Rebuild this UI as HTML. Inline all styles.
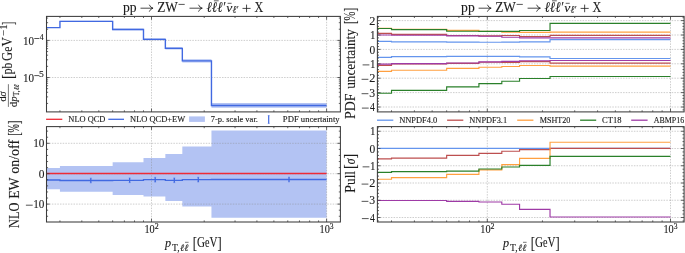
<!DOCTYPE html>
<html><head><meta charset="utf-8"><style>
html,body{margin:0;padding:0;background:#fff;}
body{width:685px;height:253px;overflow:hidden;}
svg{display:block;}
#w{will-change:transform;width:685px;height:253px;}
</style></head><body><div id="w">
<svg width="685" height="253" viewBox="0 0 685 253" font-family='"Liberation Serif", serif' fill="#1c1c1c">
<style>text{stroke:#1c1c1c;stroke-width:0.12px;}</style>
<rect width="685" height="253" fill="#fff"/>
<path d="M46.08 26.97 H59.94 V20.63 H112.65 V28.55 H143.49 V38.27 H165.36 V47.04 H182.33 V59.22 H211.46 V103.06 H326.60 V107.70 H211.46 V62.42 H182.33 V49.56 H165.36 V40.34 H143.49 V30.32 H112.65 V22.02 H59.94 V28.11 H46.08 Z" fill="#b3c3f3"/>
<line x1="151.50" y1="16.40" x2="151.50" y2="111.90" stroke="#8a8a8a" stroke-width="0.42" stroke-dasharray="1.5 1.2"/>
<line x1="326.60" y1="16.40" x2="326.60" y2="111.90" stroke="#8a8a8a" stroke-width="0.42" stroke-dasharray="1.5 1.2"/>
<line x1="46.50" y1="40.40" x2="340.40" y2="40.40" stroke="#8a8a8a" stroke-width="0.42" stroke-dasharray="1.5 1.2"/>
<line x1="46.50" y1="77.50" x2="340.40" y2="77.50" stroke="#8a8a8a" stroke-width="0.42" stroke-dasharray="1.5 1.2"/>
<path d="M46.08 27.60 H59.94 V21.40 H112.65 V29.50 H143.49 V39.40 H165.36 V48.40 H182.33 V60.90 H211.46 V105.50 H326.60" fill="none" stroke="#4169e1" stroke-width="1.4"/>
<line x1="59.94" y1="111.90" x2="59.94" y2="110.30" stroke="#3c3c3c" stroke-width="0.8"/>
<line x1="59.94" y1="16.40" x2="59.94" y2="18.00" stroke="#3c3c3c" stroke-width="0.8"/>
<line x1="81.82" y1="111.90" x2="81.82" y2="110.30" stroke="#3c3c3c" stroke-width="0.8"/>
<line x1="81.82" y1="16.40" x2="81.82" y2="18.00" stroke="#3c3c3c" stroke-width="0.8"/>
<line x1="98.79" y1="111.90" x2="98.79" y2="110.30" stroke="#3c3c3c" stroke-width="0.8"/>
<line x1="98.79" y1="16.40" x2="98.79" y2="18.00" stroke="#3c3c3c" stroke-width="0.8"/>
<line x1="112.65" y1="111.90" x2="112.65" y2="110.30" stroke="#3c3c3c" stroke-width="0.8"/>
<line x1="112.65" y1="16.40" x2="112.65" y2="18.00" stroke="#3c3c3c" stroke-width="0.8"/>
<line x1="124.38" y1="111.90" x2="124.38" y2="110.30" stroke="#3c3c3c" stroke-width="0.8"/>
<line x1="124.38" y1="16.40" x2="124.38" y2="18.00" stroke="#3c3c3c" stroke-width="0.8"/>
<line x1="134.53" y1="111.90" x2="134.53" y2="110.30" stroke="#3c3c3c" stroke-width="0.8"/>
<line x1="134.53" y1="16.40" x2="134.53" y2="18.00" stroke="#3c3c3c" stroke-width="0.8"/>
<line x1="143.49" y1="111.90" x2="143.49" y2="110.30" stroke="#3c3c3c" stroke-width="0.8"/>
<line x1="143.49" y1="16.40" x2="143.49" y2="18.00" stroke="#3c3c3c" stroke-width="0.8"/>
<line x1="151.50" y1="111.90" x2="151.50" y2="108.60" stroke="#3c3c3c" stroke-width="0.8"/>
<line x1="151.50" y1="16.40" x2="151.50" y2="19.70" stroke="#3c3c3c" stroke-width="0.8"/>
<line x1="204.21" y1="111.90" x2="204.21" y2="110.30" stroke="#3c3c3c" stroke-width="0.8"/>
<line x1="204.21" y1="16.40" x2="204.21" y2="18.00" stroke="#3c3c3c" stroke-width="0.8"/>
<line x1="235.04" y1="111.90" x2="235.04" y2="110.30" stroke="#3c3c3c" stroke-width="0.8"/>
<line x1="235.04" y1="16.40" x2="235.04" y2="18.00" stroke="#3c3c3c" stroke-width="0.8"/>
<line x1="256.92" y1="111.90" x2="256.92" y2="110.30" stroke="#3c3c3c" stroke-width="0.8"/>
<line x1="256.92" y1="16.40" x2="256.92" y2="18.00" stroke="#3c3c3c" stroke-width="0.8"/>
<line x1="273.89" y1="111.90" x2="273.89" y2="110.30" stroke="#3c3c3c" stroke-width="0.8"/>
<line x1="273.89" y1="16.40" x2="273.89" y2="18.00" stroke="#3c3c3c" stroke-width="0.8"/>
<line x1="287.75" y1="111.90" x2="287.75" y2="110.30" stroke="#3c3c3c" stroke-width="0.8"/>
<line x1="287.75" y1="16.40" x2="287.75" y2="18.00" stroke="#3c3c3c" stroke-width="0.8"/>
<line x1="299.48" y1="111.90" x2="299.48" y2="110.30" stroke="#3c3c3c" stroke-width="0.8"/>
<line x1="299.48" y1="16.40" x2="299.48" y2="18.00" stroke="#3c3c3c" stroke-width="0.8"/>
<line x1="309.63" y1="111.90" x2="309.63" y2="110.30" stroke="#3c3c3c" stroke-width="0.8"/>
<line x1="309.63" y1="16.40" x2="309.63" y2="18.00" stroke="#3c3c3c" stroke-width="0.8"/>
<line x1="318.59" y1="111.90" x2="318.59" y2="110.30" stroke="#3c3c3c" stroke-width="0.8"/>
<line x1="318.59" y1="16.40" x2="318.59" y2="18.00" stroke="#3c3c3c" stroke-width="0.8"/>
<line x1="326.60" y1="111.90" x2="326.60" y2="108.60" stroke="#3c3c3c" stroke-width="0.8"/>
<line x1="326.60" y1="16.40" x2="326.60" y2="19.70" stroke="#3c3c3c" stroke-width="0.8"/>
<line x1="46.50" y1="40.40" x2="49.60" y2="40.40" stroke="#3c3c3c" stroke-width="0.8"/>
<line x1="340.40" y1="40.40" x2="337.30" y2="40.40" stroke="#3c3c3c" stroke-width="0.8"/>
<line x1="46.50" y1="29.23" x2="48.10" y2="29.23" stroke="#3c3c3c" stroke-width="0.8"/>
<line x1="340.40" y1="29.23" x2="338.80" y2="29.23" stroke="#3c3c3c" stroke-width="0.8"/>
<line x1="46.50" y1="22.70" x2="48.10" y2="22.70" stroke="#3c3c3c" stroke-width="0.8"/>
<line x1="340.40" y1="22.70" x2="338.80" y2="22.70" stroke="#3c3c3c" stroke-width="0.8"/>
<line x1="46.50" y1="18.06" x2="48.10" y2="18.06" stroke="#3c3c3c" stroke-width="0.8"/>
<line x1="340.40" y1="18.06" x2="338.80" y2="18.06" stroke="#3c3c3c" stroke-width="0.8"/>
<line x1="46.50" y1="77.50" x2="49.60" y2="77.50" stroke="#3c3c3c" stroke-width="0.8"/>
<line x1="340.40" y1="77.50" x2="337.30" y2="77.50" stroke="#3c3c3c" stroke-width="0.8"/>
<line x1="46.50" y1="66.33" x2="48.10" y2="66.33" stroke="#3c3c3c" stroke-width="0.8"/>
<line x1="340.40" y1="66.33" x2="338.80" y2="66.33" stroke="#3c3c3c" stroke-width="0.8"/>
<line x1="46.50" y1="59.80" x2="48.10" y2="59.80" stroke="#3c3c3c" stroke-width="0.8"/>
<line x1="340.40" y1="59.80" x2="338.80" y2="59.80" stroke="#3c3c3c" stroke-width="0.8"/>
<line x1="46.50" y1="55.16" x2="48.10" y2="55.16" stroke="#3c3c3c" stroke-width="0.8"/>
<line x1="340.40" y1="55.16" x2="338.80" y2="55.16" stroke="#3c3c3c" stroke-width="0.8"/>
<line x1="46.50" y1="51.57" x2="48.10" y2="51.57" stroke="#3c3c3c" stroke-width="0.8"/>
<line x1="340.40" y1="51.57" x2="338.80" y2="51.57" stroke="#3c3c3c" stroke-width="0.8"/>
<line x1="46.50" y1="48.63" x2="48.10" y2="48.63" stroke="#3c3c3c" stroke-width="0.8"/>
<line x1="340.40" y1="48.63" x2="338.80" y2="48.63" stroke="#3c3c3c" stroke-width="0.8"/>
<line x1="46.50" y1="46.15" x2="48.10" y2="46.15" stroke="#3c3c3c" stroke-width="0.8"/>
<line x1="340.40" y1="46.15" x2="338.80" y2="46.15" stroke="#3c3c3c" stroke-width="0.8"/>
<line x1="46.50" y1="44.00" x2="48.10" y2="44.00" stroke="#3c3c3c" stroke-width="0.8"/>
<line x1="340.40" y1="44.00" x2="338.80" y2="44.00" stroke="#3c3c3c" stroke-width="0.8"/>
<line x1="46.50" y1="42.10" x2="48.10" y2="42.10" stroke="#3c3c3c" stroke-width="0.8"/>
<line x1="340.40" y1="42.10" x2="338.80" y2="42.10" stroke="#3c3c3c" stroke-width="0.8"/>
<line x1="46.50" y1="103.43" x2="48.10" y2="103.43" stroke="#3c3c3c" stroke-width="0.8"/>
<line x1="340.40" y1="103.43" x2="338.80" y2="103.43" stroke="#3c3c3c" stroke-width="0.8"/>
<line x1="46.50" y1="96.90" x2="48.10" y2="96.90" stroke="#3c3c3c" stroke-width="0.8"/>
<line x1="340.40" y1="96.90" x2="338.80" y2="96.90" stroke="#3c3c3c" stroke-width="0.8"/>
<line x1="46.50" y1="92.26" x2="48.10" y2="92.26" stroke="#3c3c3c" stroke-width="0.8"/>
<line x1="340.40" y1="92.26" x2="338.80" y2="92.26" stroke="#3c3c3c" stroke-width="0.8"/>
<line x1="46.50" y1="88.67" x2="48.10" y2="88.67" stroke="#3c3c3c" stroke-width="0.8"/>
<line x1="340.40" y1="88.67" x2="338.80" y2="88.67" stroke="#3c3c3c" stroke-width="0.8"/>
<line x1="46.50" y1="85.73" x2="48.10" y2="85.73" stroke="#3c3c3c" stroke-width="0.8"/>
<line x1="340.40" y1="85.73" x2="338.80" y2="85.73" stroke="#3c3c3c" stroke-width="0.8"/>
<line x1="46.50" y1="83.25" x2="48.10" y2="83.25" stroke="#3c3c3c" stroke-width="0.8"/>
<line x1="340.40" y1="83.25" x2="338.80" y2="83.25" stroke="#3c3c3c" stroke-width="0.8"/>
<line x1="46.50" y1="81.10" x2="48.10" y2="81.10" stroke="#3c3c3c" stroke-width="0.8"/>
<line x1="340.40" y1="81.10" x2="338.80" y2="81.10" stroke="#3c3c3c" stroke-width="0.8"/>
<line x1="46.50" y1="79.20" x2="48.10" y2="79.20" stroke="#3c3c3c" stroke-width="0.8"/>
<line x1="340.40" y1="79.20" x2="338.80" y2="79.20" stroke="#3c3c3c" stroke-width="0.8"/>
<rect x="46.50" y="16.40" width="293.90" height="95.50" fill="none" stroke="#3c3c3c" stroke-width="1.05"/>
<path d="M46.08 168.00 H59.94 V165.90 H112.65 V162.20 H143.49 V158.00 H165.36 V154.00 H182.33 V146.60 H211.46 V130.40 H326.60 V217.70 H211.46 V206.50 H182.33 V201.00 H165.36 V196.60 H143.49 V195.10 H112.65 V191.70 H59.94 V189.30 H46.08 Z" fill="#b3c3f3"/>
<line x1="151.50" y1="126.60" x2="151.50" y2="222.00" stroke="#8a8a8a" stroke-width="0.42" stroke-dasharray="1.5 1.2"/>
<line x1="326.60" y1="126.60" x2="326.60" y2="222.00" stroke="#8a8a8a" stroke-width="0.42" stroke-dasharray="1.5 1.2"/>
<line x1="46.50" y1="143.30" x2="340.40" y2="143.30" stroke="#8a8a8a" stroke-width="0.42" stroke-dasharray="1.5 1.2"/>
<line x1="46.50" y1="173.70" x2="340.40" y2="173.70" stroke="#8a8a8a" stroke-width="0.42" stroke-dasharray="1.5 1.2"/>
<line x1="46.50" y1="204.10" x2="340.40" y2="204.10" stroke="#8a8a8a" stroke-width="0.42" stroke-dasharray="1.5 1.2"/>
<line x1="46.08" y1="173.50" x2="326.60" y2="173.50" stroke="#ee2b36" stroke-width="1.3"/>
<path d="M46.08 180.00 H59.94 V180.50 H112.65 V180.30 H143.49 V179.70 H165.36 V180.30 H182.33 V179.60 H211.46 V179.50 H326.60" fill="none" stroke="#4169e1" stroke-width="1.3"/>
<line x1="90.78" y1="178.20" x2="90.78" y2="182.80" stroke="#4169e1" stroke-width="1.3"/>
<line x1="89.88" y1="178.20" x2="91.68" y2="178.20" stroke="#4169e1" stroke-width="0.6"/>
<line x1="89.88" y1="182.80" x2="91.68" y2="182.80" stroke="#4169e1" stroke-width="0.6"/>
<line x1="129.62" y1="178.00" x2="129.62" y2="182.60" stroke="#4169e1" stroke-width="1.3"/>
<line x1="128.72" y1="178.00" x2="130.52" y2="178.00" stroke="#4169e1" stroke-width="0.6"/>
<line x1="128.72" y1="182.60" x2="130.52" y2="182.60" stroke="#4169e1" stroke-width="0.6"/>
<line x1="155.21" y1="177.40" x2="155.21" y2="182.00" stroke="#4169e1" stroke-width="1.3"/>
<line x1="154.31" y1="177.40" x2="156.11" y2="177.40" stroke="#4169e1" stroke-width="0.6"/>
<line x1="154.31" y1="182.00" x2="156.11" y2="182.00" stroke="#4169e1" stroke-width="0.6"/>
<line x1="174.32" y1="178.00" x2="174.32" y2="182.60" stroke="#4169e1" stroke-width="1.3"/>
<line x1="173.42" y1="178.00" x2="175.22" y2="178.00" stroke="#4169e1" stroke-width="0.6"/>
<line x1="173.42" y1="182.60" x2="175.22" y2="182.60" stroke="#4169e1" stroke-width="0.6"/>
<line x1="198.28" y1="177.30" x2="198.28" y2="181.90" stroke="#4169e1" stroke-width="1.3"/>
<line x1="197.38" y1="177.30" x2="199.18" y2="177.30" stroke="#4169e1" stroke-width="0.6"/>
<line x1="197.38" y1="181.90" x2="199.18" y2="181.90" stroke="#4169e1" stroke-width="0.6"/>
<line x1="289.01" y1="177.20" x2="289.01" y2="181.80" stroke="#4169e1" stroke-width="1.3"/>
<line x1="288.11" y1="177.20" x2="289.91" y2="177.20" stroke="#4169e1" stroke-width="0.6"/>
<line x1="288.11" y1="181.80" x2="289.91" y2="181.80" stroke="#4169e1" stroke-width="0.6"/>
<line x1="59.94" y1="222.00" x2="59.94" y2="220.40" stroke="#3c3c3c" stroke-width="0.8"/>
<line x1="59.94" y1="126.60" x2="59.94" y2="128.20" stroke="#3c3c3c" stroke-width="0.8"/>
<line x1="81.82" y1="222.00" x2="81.82" y2="220.40" stroke="#3c3c3c" stroke-width="0.8"/>
<line x1="81.82" y1="126.60" x2="81.82" y2="128.20" stroke="#3c3c3c" stroke-width="0.8"/>
<line x1="98.79" y1="222.00" x2="98.79" y2="220.40" stroke="#3c3c3c" stroke-width="0.8"/>
<line x1="98.79" y1="126.60" x2="98.79" y2="128.20" stroke="#3c3c3c" stroke-width="0.8"/>
<line x1="112.65" y1="222.00" x2="112.65" y2="220.40" stroke="#3c3c3c" stroke-width="0.8"/>
<line x1="112.65" y1="126.60" x2="112.65" y2="128.20" stroke="#3c3c3c" stroke-width="0.8"/>
<line x1="124.38" y1="222.00" x2="124.38" y2="220.40" stroke="#3c3c3c" stroke-width="0.8"/>
<line x1="124.38" y1="126.60" x2="124.38" y2="128.20" stroke="#3c3c3c" stroke-width="0.8"/>
<line x1="134.53" y1="222.00" x2="134.53" y2="220.40" stroke="#3c3c3c" stroke-width="0.8"/>
<line x1="134.53" y1="126.60" x2="134.53" y2="128.20" stroke="#3c3c3c" stroke-width="0.8"/>
<line x1="143.49" y1="222.00" x2="143.49" y2="220.40" stroke="#3c3c3c" stroke-width="0.8"/>
<line x1="143.49" y1="126.60" x2="143.49" y2="128.20" stroke="#3c3c3c" stroke-width="0.8"/>
<line x1="151.50" y1="222.00" x2="151.50" y2="218.70" stroke="#3c3c3c" stroke-width="0.8"/>
<line x1="151.50" y1="126.60" x2="151.50" y2="129.90" stroke="#3c3c3c" stroke-width="0.8"/>
<line x1="204.21" y1="222.00" x2="204.21" y2="220.40" stroke="#3c3c3c" stroke-width="0.8"/>
<line x1="204.21" y1="126.60" x2="204.21" y2="128.20" stroke="#3c3c3c" stroke-width="0.8"/>
<line x1="235.04" y1="222.00" x2="235.04" y2="220.40" stroke="#3c3c3c" stroke-width="0.8"/>
<line x1="235.04" y1="126.60" x2="235.04" y2="128.20" stroke="#3c3c3c" stroke-width="0.8"/>
<line x1="256.92" y1="222.00" x2="256.92" y2="220.40" stroke="#3c3c3c" stroke-width="0.8"/>
<line x1="256.92" y1="126.60" x2="256.92" y2="128.20" stroke="#3c3c3c" stroke-width="0.8"/>
<line x1="273.89" y1="222.00" x2="273.89" y2="220.40" stroke="#3c3c3c" stroke-width="0.8"/>
<line x1="273.89" y1="126.60" x2="273.89" y2="128.20" stroke="#3c3c3c" stroke-width="0.8"/>
<line x1="287.75" y1="222.00" x2="287.75" y2="220.40" stroke="#3c3c3c" stroke-width="0.8"/>
<line x1="287.75" y1="126.60" x2="287.75" y2="128.20" stroke="#3c3c3c" stroke-width="0.8"/>
<line x1="299.48" y1="222.00" x2="299.48" y2="220.40" stroke="#3c3c3c" stroke-width="0.8"/>
<line x1="299.48" y1="126.60" x2="299.48" y2="128.20" stroke="#3c3c3c" stroke-width="0.8"/>
<line x1="309.63" y1="222.00" x2="309.63" y2="220.40" stroke="#3c3c3c" stroke-width="0.8"/>
<line x1="309.63" y1="126.60" x2="309.63" y2="128.20" stroke="#3c3c3c" stroke-width="0.8"/>
<line x1="318.59" y1="222.00" x2="318.59" y2="220.40" stroke="#3c3c3c" stroke-width="0.8"/>
<line x1="318.59" y1="126.60" x2="318.59" y2="128.20" stroke="#3c3c3c" stroke-width="0.8"/>
<line x1="326.60" y1="222.00" x2="326.60" y2="218.70" stroke="#3c3c3c" stroke-width="0.8"/>
<line x1="326.60" y1="126.60" x2="326.60" y2="129.90" stroke="#3c3c3c" stroke-width="0.8"/>
<line x1="46.50" y1="216.26" x2="48.10" y2="216.26" stroke="#3c3c3c" stroke-width="0.8"/>
<line x1="340.40" y1="216.26" x2="338.80" y2="216.26" stroke="#3c3c3c" stroke-width="0.8"/>
<line x1="46.50" y1="210.18" x2="48.10" y2="210.18" stroke="#3c3c3c" stroke-width="0.8"/>
<line x1="340.40" y1="210.18" x2="338.80" y2="210.18" stroke="#3c3c3c" stroke-width="0.8"/>
<line x1="46.50" y1="204.10" x2="49.60" y2="204.10" stroke="#3c3c3c" stroke-width="0.8"/>
<line x1="340.40" y1="204.10" x2="337.30" y2="204.10" stroke="#3c3c3c" stroke-width="0.8"/>
<line x1="46.50" y1="198.02" x2="48.10" y2="198.02" stroke="#3c3c3c" stroke-width="0.8"/>
<line x1="340.40" y1="198.02" x2="338.80" y2="198.02" stroke="#3c3c3c" stroke-width="0.8"/>
<line x1="46.50" y1="191.94" x2="48.10" y2="191.94" stroke="#3c3c3c" stroke-width="0.8"/>
<line x1="340.40" y1="191.94" x2="338.80" y2="191.94" stroke="#3c3c3c" stroke-width="0.8"/>
<line x1="46.50" y1="185.86" x2="48.10" y2="185.86" stroke="#3c3c3c" stroke-width="0.8"/>
<line x1="340.40" y1="185.86" x2="338.80" y2="185.86" stroke="#3c3c3c" stroke-width="0.8"/>
<line x1="46.50" y1="179.78" x2="48.10" y2="179.78" stroke="#3c3c3c" stroke-width="0.8"/>
<line x1="340.40" y1="179.78" x2="338.80" y2="179.78" stroke="#3c3c3c" stroke-width="0.8"/>
<line x1="46.50" y1="173.70" x2="49.60" y2="173.70" stroke="#3c3c3c" stroke-width="0.8"/>
<line x1="340.40" y1="173.70" x2="337.30" y2="173.70" stroke="#3c3c3c" stroke-width="0.8"/>
<line x1="46.50" y1="167.62" x2="48.10" y2="167.62" stroke="#3c3c3c" stroke-width="0.8"/>
<line x1="340.40" y1="167.62" x2="338.80" y2="167.62" stroke="#3c3c3c" stroke-width="0.8"/>
<line x1="46.50" y1="161.54" x2="48.10" y2="161.54" stroke="#3c3c3c" stroke-width="0.8"/>
<line x1="340.40" y1="161.54" x2="338.80" y2="161.54" stroke="#3c3c3c" stroke-width="0.8"/>
<line x1="46.50" y1="155.46" x2="48.10" y2="155.46" stroke="#3c3c3c" stroke-width="0.8"/>
<line x1="340.40" y1="155.46" x2="338.80" y2="155.46" stroke="#3c3c3c" stroke-width="0.8"/>
<line x1="46.50" y1="149.38" x2="48.10" y2="149.38" stroke="#3c3c3c" stroke-width="0.8"/>
<line x1="340.40" y1="149.38" x2="338.80" y2="149.38" stroke="#3c3c3c" stroke-width="0.8"/>
<line x1="46.50" y1="143.30" x2="49.60" y2="143.30" stroke="#3c3c3c" stroke-width="0.8"/>
<line x1="340.40" y1="143.30" x2="337.30" y2="143.30" stroke="#3c3c3c" stroke-width="0.8"/>
<line x1="46.50" y1="137.22" x2="48.10" y2="137.22" stroke="#3c3c3c" stroke-width="0.8"/>
<line x1="340.40" y1="137.22" x2="338.80" y2="137.22" stroke="#3c3c3c" stroke-width="0.8"/>
<line x1="46.50" y1="131.14" x2="48.10" y2="131.14" stroke="#3c3c3c" stroke-width="0.8"/>
<line x1="340.40" y1="131.14" x2="338.80" y2="131.14" stroke="#3c3c3c" stroke-width="0.8"/>
<rect x="46.50" y="126.60" width="293.90" height="95.40" fill="none" stroke="#3c3c3c" stroke-width="1.05"/>
<line x1="487.30" y1="16.40" x2="487.30" y2="111.90" stroke="#8a8a8a" stroke-width="0.42" stroke-dasharray="1.5 1.2"/>
<line x1="670.50" y1="16.40" x2="670.50" y2="111.90" stroke="#8a8a8a" stroke-width="0.42" stroke-dasharray="1.5 1.2"/>
<line x1="377.40" y1="107.00" x2="684.10" y2="107.00" stroke="#8a8a8a" stroke-width="0.42" stroke-dasharray="1.5 1.2"/>
<line x1="377.40" y1="92.60" x2="684.10" y2="92.60" stroke="#8a8a8a" stroke-width="0.42" stroke-dasharray="1.5 1.2"/>
<line x1="377.40" y1="78.20" x2="684.10" y2="78.20" stroke="#8a8a8a" stroke-width="0.42" stroke-dasharray="1.5 1.2"/>
<line x1="377.40" y1="63.80" x2="684.10" y2="63.80" stroke="#8a8a8a" stroke-width="0.42" stroke-dasharray="1.5 1.2"/>
<line x1="377.40" y1="49.40" x2="684.10" y2="49.40" stroke="#8a8a8a" stroke-width="0.42" stroke-dasharray="1.5 1.2"/>
<line x1="377.40" y1="35.00" x2="684.10" y2="35.00" stroke="#8a8a8a" stroke-width="0.42" stroke-dasharray="1.5 1.2"/>
<line x1="377.40" y1="20.60" x2="684.10" y2="20.60" stroke="#8a8a8a" stroke-width="0.42" stroke-dasharray="1.5 1.2"/>
<path d="M377.00 41.40 H391.51 V41.80 H446.66 V42.10 H478.92 V42.20 H501.81 V42.10 H519.56 V41.80 H550.03 V39.60 H670.50" fill="none" stroke="#6495ed" stroke-width="1.15"/>
<path d="M377.00 57.40 H391.51 V56.60 H446.66 V56.40 H478.92 V56.30 H501.81 V56.30 H519.56 V56.90 H550.03 V58.50 H670.50" fill="none" stroke="#6495ed" stroke-width="1.15"/>
<path d="M377.00 33.40 H391.51 V34.30 H446.66 V35.50 H478.92 V35.90 H501.81 V35.50 H519.56 V36.50 H550.03 V35.30 H670.50" fill="none" stroke="#bd4f4f" stroke-width="1.15"/>
<path d="M377.00 65.30 H391.51 V64.00 H446.66 V63.30 H478.92 V62.20 H501.81 V62.40 H519.56 V61.60 H550.03 V63.10 H670.50" fill="none" stroke="#bd4f4f" stroke-width="1.15"/>
<path d="M377.00 28.20 H391.51 V29.30 H446.66 V30.40 H478.92 V31.20 H501.81 V32.20 H519.56 V32.30 H550.03 V32.10 H670.50" fill="none" stroke="#ffa040" stroke-width="1.15"/>
<path d="M377.00 71.30 H391.51 V70.20 H446.66 V68.30 H478.92 V67.20 H501.81 V66.50 H519.56 V65.50 H550.03 V66.10 H670.50" fill="none" stroke="#ffa040" stroke-width="1.15"/>
<path d="M377.00 28.50 H391.51 V29.60 H446.66 V31.20 H478.92 V31.40 H501.81 V31.40 H519.56 V30.50 H550.03 V23.40 H670.50" fill="none" stroke="#2a802a" stroke-width="1.15"/>
<path d="M377.00 93.20 H391.51 V90.40 H446.66 V86.90 H478.92 V83.60 H501.81 V81.20 H519.56 V78.50 H550.03 V76.50 H670.50" fill="none" stroke="#2a802a" stroke-width="1.15"/>
<path d="M377.00 35.00 H391.51 V35.20 H446.66 V35.80 H478.92 V36.20 H501.81 V37.20 H519.56 V37.80 H550.03 V37.80 H670.50" fill="none" stroke="#9e3aa6" stroke-width="1.15"/>
<path d="M377.00 64.20 H391.51 V63.60 H446.66 V63.00 H478.92 V61.80 H501.81 V61.30 H519.56 V60.70 H550.03 V60.50 H670.50" fill="none" stroke="#9e3aa6" stroke-width="1.15"/>
<line x1="391.51" y1="111.90" x2="391.51" y2="110.30" stroke="#3c3c3c" stroke-width="0.8"/>
<line x1="391.51" y1="16.40" x2="391.51" y2="18.00" stroke="#3c3c3c" stroke-width="0.8"/>
<line x1="414.40" y1="111.90" x2="414.40" y2="110.30" stroke="#3c3c3c" stroke-width="0.8"/>
<line x1="414.40" y1="16.40" x2="414.40" y2="18.00" stroke="#3c3c3c" stroke-width="0.8"/>
<line x1="432.15" y1="111.90" x2="432.15" y2="110.30" stroke="#3c3c3c" stroke-width="0.8"/>
<line x1="432.15" y1="16.40" x2="432.15" y2="18.00" stroke="#3c3c3c" stroke-width="0.8"/>
<line x1="446.66" y1="111.90" x2="446.66" y2="110.30" stroke="#3c3c3c" stroke-width="0.8"/>
<line x1="446.66" y1="16.40" x2="446.66" y2="18.00" stroke="#3c3c3c" stroke-width="0.8"/>
<line x1="458.92" y1="111.90" x2="458.92" y2="110.30" stroke="#3c3c3c" stroke-width="0.8"/>
<line x1="458.92" y1="16.40" x2="458.92" y2="18.00" stroke="#3c3c3c" stroke-width="0.8"/>
<line x1="469.55" y1="111.90" x2="469.55" y2="110.30" stroke="#3c3c3c" stroke-width="0.8"/>
<line x1="469.55" y1="16.40" x2="469.55" y2="18.00" stroke="#3c3c3c" stroke-width="0.8"/>
<line x1="478.92" y1="111.90" x2="478.92" y2="110.30" stroke="#3c3c3c" stroke-width="0.8"/>
<line x1="478.92" y1="16.40" x2="478.92" y2="18.00" stroke="#3c3c3c" stroke-width="0.8"/>
<line x1="487.30" y1="111.90" x2="487.30" y2="108.60" stroke="#3c3c3c" stroke-width="0.8"/>
<line x1="487.30" y1="16.40" x2="487.30" y2="19.70" stroke="#3c3c3c" stroke-width="0.8"/>
<line x1="542.45" y1="111.90" x2="542.45" y2="110.30" stroke="#3c3c3c" stroke-width="0.8"/>
<line x1="542.45" y1="16.40" x2="542.45" y2="18.00" stroke="#3c3c3c" stroke-width="0.8"/>
<line x1="574.71" y1="111.90" x2="574.71" y2="110.30" stroke="#3c3c3c" stroke-width="0.8"/>
<line x1="574.71" y1="16.40" x2="574.71" y2="18.00" stroke="#3c3c3c" stroke-width="0.8"/>
<line x1="597.60" y1="111.90" x2="597.60" y2="110.30" stroke="#3c3c3c" stroke-width="0.8"/>
<line x1="597.60" y1="16.40" x2="597.60" y2="18.00" stroke="#3c3c3c" stroke-width="0.8"/>
<line x1="615.35" y1="111.90" x2="615.35" y2="110.30" stroke="#3c3c3c" stroke-width="0.8"/>
<line x1="615.35" y1="16.40" x2="615.35" y2="18.00" stroke="#3c3c3c" stroke-width="0.8"/>
<line x1="629.86" y1="111.90" x2="629.86" y2="110.30" stroke="#3c3c3c" stroke-width="0.8"/>
<line x1="629.86" y1="16.40" x2="629.86" y2="18.00" stroke="#3c3c3c" stroke-width="0.8"/>
<line x1="642.12" y1="111.90" x2="642.12" y2="110.30" stroke="#3c3c3c" stroke-width="0.8"/>
<line x1="642.12" y1="16.40" x2="642.12" y2="18.00" stroke="#3c3c3c" stroke-width="0.8"/>
<line x1="652.75" y1="111.90" x2="652.75" y2="110.30" stroke="#3c3c3c" stroke-width="0.8"/>
<line x1="652.75" y1="16.40" x2="652.75" y2="18.00" stroke="#3c3c3c" stroke-width="0.8"/>
<line x1="662.12" y1="111.90" x2="662.12" y2="110.30" stroke="#3c3c3c" stroke-width="0.8"/>
<line x1="662.12" y1="16.40" x2="662.12" y2="18.00" stroke="#3c3c3c" stroke-width="0.8"/>
<line x1="670.50" y1="111.90" x2="670.50" y2="108.60" stroke="#3c3c3c" stroke-width="0.8"/>
<line x1="670.50" y1="16.40" x2="670.50" y2="19.70" stroke="#3c3c3c" stroke-width="0.8"/>
<line x1="377.40" y1="109.88" x2="379.00" y2="109.88" stroke="#3c3c3c" stroke-width="0.8"/>
<line x1="684.10" y1="109.88" x2="682.50" y2="109.88" stroke="#3c3c3c" stroke-width="0.8"/>
<line x1="377.40" y1="107.00" x2="380.50" y2="107.00" stroke="#3c3c3c" stroke-width="0.8"/>
<line x1="684.10" y1="107.00" x2="681.00" y2="107.00" stroke="#3c3c3c" stroke-width="0.8"/>
<line x1="377.40" y1="104.12" x2="379.00" y2="104.12" stroke="#3c3c3c" stroke-width="0.8"/>
<line x1="684.10" y1="104.12" x2="682.50" y2="104.12" stroke="#3c3c3c" stroke-width="0.8"/>
<line x1="377.40" y1="101.24" x2="379.00" y2="101.24" stroke="#3c3c3c" stroke-width="0.8"/>
<line x1="684.10" y1="101.24" x2="682.50" y2="101.24" stroke="#3c3c3c" stroke-width="0.8"/>
<line x1="377.40" y1="98.36" x2="379.00" y2="98.36" stroke="#3c3c3c" stroke-width="0.8"/>
<line x1="684.10" y1="98.36" x2="682.50" y2="98.36" stroke="#3c3c3c" stroke-width="0.8"/>
<line x1="377.40" y1="95.48" x2="379.00" y2="95.48" stroke="#3c3c3c" stroke-width="0.8"/>
<line x1="684.10" y1="95.48" x2="682.50" y2="95.48" stroke="#3c3c3c" stroke-width="0.8"/>
<line x1="377.40" y1="92.60" x2="380.50" y2="92.60" stroke="#3c3c3c" stroke-width="0.8"/>
<line x1="684.10" y1="92.60" x2="681.00" y2="92.60" stroke="#3c3c3c" stroke-width="0.8"/>
<line x1="377.40" y1="89.72" x2="379.00" y2="89.72" stroke="#3c3c3c" stroke-width="0.8"/>
<line x1="684.10" y1="89.72" x2="682.50" y2="89.72" stroke="#3c3c3c" stroke-width="0.8"/>
<line x1="377.40" y1="86.84" x2="379.00" y2="86.84" stroke="#3c3c3c" stroke-width="0.8"/>
<line x1="684.10" y1="86.84" x2="682.50" y2="86.84" stroke="#3c3c3c" stroke-width="0.8"/>
<line x1="377.40" y1="83.96" x2="379.00" y2="83.96" stroke="#3c3c3c" stroke-width="0.8"/>
<line x1="684.10" y1="83.96" x2="682.50" y2="83.96" stroke="#3c3c3c" stroke-width="0.8"/>
<line x1="377.40" y1="81.08" x2="379.00" y2="81.08" stroke="#3c3c3c" stroke-width="0.8"/>
<line x1="684.10" y1="81.08" x2="682.50" y2="81.08" stroke="#3c3c3c" stroke-width="0.8"/>
<line x1="377.40" y1="78.20" x2="380.50" y2="78.20" stroke="#3c3c3c" stroke-width="0.8"/>
<line x1="684.10" y1="78.20" x2="681.00" y2="78.20" stroke="#3c3c3c" stroke-width="0.8"/>
<line x1="377.40" y1="75.32" x2="379.00" y2="75.32" stroke="#3c3c3c" stroke-width="0.8"/>
<line x1="684.10" y1="75.32" x2="682.50" y2="75.32" stroke="#3c3c3c" stroke-width="0.8"/>
<line x1="377.40" y1="72.44" x2="379.00" y2="72.44" stroke="#3c3c3c" stroke-width="0.8"/>
<line x1="684.10" y1="72.44" x2="682.50" y2="72.44" stroke="#3c3c3c" stroke-width="0.8"/>
<line x1="377.40" y1="69.56" x2="379.00" y2="69.56" stroke="#3c3c3c" stroke-width="0.8"/>
<line x1="684.10" y1="69.56" x2="682.50" y2="69.56" stroke="#3c3c3c" stroke-width="0.8"/>
<line x1="377.40" y1="66.68" x2="379.00" y2="66.68" stroke="#3c3c3c" stroke-width="0.8"/>
<line x1="684.10" y1="66.68" x2="682.50" y2="66.68" stroke="#3c3c3c" stroke-width="0.8"/>
<line x1="377.40" y1="63.80" x2="380.50" y2="63.80" stroke="#3c3c3c" stroke-width="0.8"/>
<line x1="684.10" y1="63.80" x2="681.00" y2="63.80" stroke="#3c3c3c" stroke-width="0.8"/>
<line x1="377.40" y1="60.92" x2="379.00" y2="60.92" stroke="#3c3c3c" stroke-width="0.8"/>
<line x1="684.10" y1="60.92" x2="682.50" y2="60.92" stroke="#3c3c3c" stroke-width="0.8"/>
<line x1="377.40" y1="58.04" x2="379.00" y2="58.04" stroke="#3c3c3c" stroke-width="0.8"/>
<line x1="684.10" y1="58.04" x2="682.50" y2="58.04" stroke="#3c3c3c" stroke-width="0.8"/>
<line x1="377.40" y1="55.16" x2="379.00" y2="55.16" stroke="#3c3c3c" stroke-width="0.8"/>
<line x1="684.10" y1="55.16" x2="682.50" y2="55.16" stroke="#3c3c3c" stroke-width="0.8"/>
<line x1="377.40" y1="52.28" x2="379.00" y2="52.28" stroke="#3c3c3c" stroke-width="0.8"/>
<line x1="684.10" y1="52.28" x2="682.50" y2="52.28" stroke="#3c3c3c" stroke-width="0.8"/>
<line x1="377.40" y1="49.40" x2="380.50" y2="49.40" stroke="#3c3c3c" stroke-width="0.8"/>
<line x1="684.10" y1="49.40" x2="681.00" y2="49.40" stroke="#3c3c3c" stroke-width="0.8"/>
<line x1="377.40" y1="46.52" x2="379.00" y2="46.52" stroke="#3c3c3c" stroke-width="0.8"/>
<line x1="684.10" y1="46.52" x2="682.50" y2="46.52" stroke="#3c3c3c" stroke-width="0.8"/>
<line x1="377.40" y1="43.64" x2="379.00" y2="43.64" stroke="#3c3c3c" stroke-width="0.8"/>
<line x1="684.10" y1="43.64" x2="682.50" y2="43.64" stroke="#3c3c3c" stroke-width="0.8"/>
<line x1="377.40" y1="40.76" x2="379.00" y2="40.76" stroke="#3c3c3c" stroke-width="0.8"/>
<line x1="684.10" y1="40.76" x2="682.50" y2="40.76" stroke="#3c3c3c" stroke-width="0.8"/>
<line x1="377.40" y1="37.88" x2="379.00" y2="37.88" stroke="#3c3c3c" stroke-width="0.8"/>
<line x1="684.10" y1="37.88" x2="682.50" y2="37.88" stroke="#3c3c3c" stroke-width="0.8"/>
<line x1="377.40" y1="35.00" x2="380.50" y2="35.00" stroke="#3c3c3c" stroke-width="0.8"/>
<line x1="684.10" y1="35.00" x2="681.00" y2="35.00" stroke="#3c3c3c" stroke-width="0.8"/>
<line x1="377.40" y1="32.12" x2="379.00" y2="32.12" stroke="#3c3c3c" stroke-width="0.8"/>
<line x1="684.10" y1="32.12" x2="682.50" y2="32.12" stroke="#3c3c3c" stroke-width="0.8"/>
<line x1="377.40" y1="29.24" x2="379.00" y2="29.24" stroke="#3c3c3c" stroke-width="0.8"/>
<line x1="684.10" y1="29.24" x2="682.50" y2="29.24" stroke="#3c3c3c" stroke-width="0.8"/>
<line x1="377.40" y1="26.36" x2="379.00" y2="26.36" stroke="#3c3c3c" stroke-width="0.8"/>
<line x1="684.10" y1="26.36" x2="682.50" y2="26.36" stroke="#3c3c3c" stroke-width="0.8"/>
<line x1="377.40" y1="23.48" x2="379.00" y2="23.48" stroke="#3c3c3c" stroke-width="0.8"/>
<line x1="684.10" y1="23.48" x2="682.50" y2="23.48" stroke="#3c3c3c" stroke-width="0.8"/>
<line x1="377.40" y1="20.60" x2="380.50" y2="20.60" stroke="#3c3c3c" stroke-width="0.8"/>
<line x1="684.10" y1="20.60" x2="681.00" y2="20.60" stroke="#3c3c3c" stroke-width="0.8"/>
<line x1="377.40" y1="17.72" x2="379.00" y2="17.72" stroke="#3c3c3c" stroke-width="0.8"/>
<line x1="684.10" y1="17.72" x2="682.50" y2="17.72" stroke="#3c3c3c" stroke-width="0.8"/>
<rect x="377.40" y="16.40" width="306.70" height="95.50" fill="none" stroke="#3c3c3c" stroke-width="1.05"/>
<line x1="487.30" y1="126.60" x2="487.30" y2="222.00" stroke="#8a8a8a" stroke-width="0.42" stroke-dasharray="1.5 1.2"/>
<line x1="670.50" y1="126.60" x2="670.50" y2="222.00" stroke="#8a8a8a" stroke-width="0.42" stroke-dasharray="1.5 1.2"/>
<line x1="377.40" y1="217.50" x2="684.10" y2="217.50" stroke="#8a8a8a" stroke-width="0.42" stroke-dasharray="1.5 1.2"/>
<line x1="377.40" y1="200.25" x2="684.10" y2="200.25" stroke="#8a8a8a" stroke-width="0.42" stroke-dasharray="1.5 1.2"/>
<line x1="377.40" y1="183.00" x2="684.10" y2="183.00" stroke="#8a8a8a" stroke-width="0.42" stroke-dasharray="1.5 1.2"/>
<line x1="377.40" y1="165.75" x2="684.10" y2="165.75" stroke="#8a8a8a" stroke-width="0.42" stroke-dasharray="1.5 1.2"/>
<line x1="377.40" y1="148.50" x2="684.10" y2="148.50" stroke="#8a8a8a" stroke-width="0.42" stroke-dasharray="1.5 1.2"/>
<line x1="377.40" y1="131.25" x2="684.10" y2="131.25" stroke="#8a8a8a" stroke-width="0.42" stroke-dasharray="1.5 1.2"/>
<path d="M377.00 148.40 H391.51 V148.40 H446.66 V148.40 H478.92 V148.40 H501.81 V148.40 H519.56 V148.40 H550.03 V148.40 H670.50" fill="none" stroke="#6495ed" stroke-width="1.15"/>
<path d="M377.00 158.80 H391.51 V158.10 H446.66 V155.40 H478.92 V153.40 H501.81 V151.20 H519.56 V149.60 H550.03 V148.40 H670.50" fill="none" stroke="#bd4f4f" stroke-width="1.15"/>
<path d="M377.00 179.20 H391.51 V177.60 H446.66 V174.40 H478.92 V169.90 H501.81 V164.60 H519.56 V158.40 H550.03 V142.20 H670.50" fill="none" stroke="#ffa040" stroke-width="1.15"/>
<path d="M377.00 172.40 H391.51 V171.60 H446.66 V171.10 H478.92 V169.00 H501.81 V167.00 H519.56 V165.30 H550.03 V156.40 H670.50" fill="none" stroke="#2a802a" stroke-width="1.15"/>
<path d="M377.00 200.50 H391.51 V200.50 H446.66 V201.30 H478.92 V202.00 H501.81 V204.20 H519.56 V209.30 H550.03 V217.00 H670.50" fill="none" stroke="#9e3aa6" stroke-width="1.15"/>
<line x1="391.51" y1="222.00" x2="391.51" y2="220.40" stroke="#3c3c3c" stroke-width="0.8"/>
<line x1="391.51" y1="126.60" x2="391.51" y2="128.20" stroke="#3c3c3c" stroke-width="0.8"/>
<line x1="414.40" y1="222.00" x2="414.40" y2="220.40" stroke="#3c3c3c" stroke-width="0.8"/>
<line x1="414.40" y1="126.60" x2="414.40" y2="128.20" stroke="#3c3c3c" stroke-width="0.8"/>
<line x1="432.15" y1="222.00" x2="432.15" y2="220.40" stroke="#3c3c3c" stroke-width="0.8"/>
<line x1="432.15" y1="126.60" x2="432.15" y2="128.20" stroke="#3c3c3c" stroke-width="0.8"/>
<line x1="446.66" y1="222.00" x2="446.66" y2="220.40" stroke="#3c3c3c" stroke-width="0.8"/>
<line x1="446.66" y1="126.60" x2="446.66" y2="128.20" stroke="#3c3c3c" stroke-width="0.8"/>
<line x1="458.92" y1="222.00" x2="458.92" y2="220.40" stroke="#3c3c3c" stroke-width="0.8"/>
<line x1="458.92" y1="126.60" x2="458.92" y2="128.20" stroke="#3c3c3c" stroke-width="0.8"/>
<line x1="469.55" y1="222.00" x2="469.55" y2="220.40" stroke="#3c3c3c" stroke-width="0.8"/>
<line x1="469.55" y1="126.60" x2="469.55" y2="128.20" stroke="#3c3c3c" stroke-width="0.8"/>
<line x1="478.92" y1="222.00" x2="478.92" y2="220.40" stroke="#3c3c3c" stroke-width="0.8"/>
<line x1="478.92" y1="126.60" x2="478.92" y2="128.20" stroke="#3c3c3c" stroke-width="0.8"/>
<line x1="487.30" y1="222.00" x2="487.30" y2="218.70" stroke="#3c3c3c" stroke-width="0.8"/>
<line x1="487.30" y1="126.60" x2="487.30" y2="129.90" stroke="#3c3c3c" stroke-width="0.8"/>
<line x1="542.45" y1="222.00" x2="542.45" y2="220.40" stroke="#3c3c3c" stroke-width="0.8"/>
<line x1="542.45" y1="126.60" x2="542.45" y2="128.20" stroke="#3c3c3c" stroke-width="0.8"/>
<line x1="574.71" y1="222.00" x2="574.71" y2="220.40" stroke="#3c3c3c" stroke-width="0.8"/>
<line x1="574.71" y1="126.60" x2="574.71" y2="128.20" stroke="#3c3c3c" stroke-width="0.8"/>
<line x1="597.60" y1="222.00" x2="597.60" y2="220.40" stroke="#3c3c3c" stroke-width="0.8"/>
<line x1="597.60" y1="126.60" x2="597.60" y2="128.20" stroke="#3c3c3c" stroke-width="0.8"/>
<line x1="615.35" y1="222.00" x2="615.35" y2="220.40" stroke="#3c3c3c" stroke-width="0.8"/>
<line x1="615.35" y1="126.60" x2="615.35" y2="128.20" stroke="#3c3c3c" stroke-width="0.8"/>
<line x1="629.86" y1="222.00" x2="629.86" y2="220.40" stroke="#3c3c3c" stroke-width="0.8"/>
<line x1="629.86" y1="126.60" x2="629.86" y2="128.20" stroke="#3c3c3c" stroke-width="0.8"/>
<line x1="642.12" y1="222.00" x2="642.12" y2="220.40" stroke="#3c3c3c" stroke-width="0.8"/>
<line x1="642.12" y1="126.60" x2="642.12" y2="128.20" stroke="#3c3c3c" stroke-width="0.8"/>
<line x1="652.75" y1="222.00" x2="652.75" y2="220.40" stroke="#3c3c3c" stroke-width="0.8"/>
<line x1="652.75" y1="126.60" x2="652.75" y2="128.20" stroke="#3c3c3c" stroke-width="0.8"/>
<line x1="662.12" y1="222.00" x2="662.12" y2="220.40" stroke="#3c3c3c" stroke-width="0.8"/>
<line x1="662.12" y1="126.60" x2="662.12" y2="128.20" stroke="#3c3c3c" stroke-width="0.8"/>
<line x1="670.50" y1="222.00" x2="670.50" y2="218.70" stroke="#3c3c3c" stroke-width="0.8"/>
<line x1="670.50" y1="126.60" x2="670.50" y2="129.90" stroke="#3c3c3c" stroke-width="0.8"/>
<line x1="377.40" y1="220.95" x2="379.00" y2="220.95" stroke="#3c3c3c" stroke-width="0.8"/>
<line x1="684.10" y1="220.95" x2="682.50" y2="220.95" stroke="#3c3c3c" stroke-width="0.8"/>
<line x1="377.40" y1="217.50" x2="380.50" y2="217.50" stroke="#3c3c3c" stroke-width="0.8"/>
<line x1="684.10" y1="217.50" x2="681.00" y2="217.50" stroke="#3c3c3c" stroke-width="0.8"/>
<line x1="377.40" y1="214.05" x2="379.00" y2="214.05" stroke="#3c3c3c" stroke-width="0.8"/>
<line x1="684.10" y1="214.05" x2="682.50" y2="214.05" stroke="#3c3c3c" stroke-width="0.8"/>
<line x1="377.40" y1="210.60" x2="379.00" y2="210.60" stroke="#3c3c3c" stroke-width="0.8"/>
<line x1="684.10" y1="210.60" x2="682.50" y2="210.60" stroke="#3c3c3c" stroke-width="0.8"/>
<line x1="377.40" y1="207.15" x2="379.00" y2="207.15" stroke="#3c3c3c" stroke-width="0.8"/>
<line x1="684.10" y1="207.15" x2="682.50" y2="207.15" stroke="#3c3c3c" stroke-width="0.8"/>
<line x1="377.40" y1="203.70" x2="379.00" y2="203.70" stroke="#3c3c3c" stroke-width="0.8"/>
<line x1="684.10" y1="203.70" x2="682.50" y2="203.70" stroke="#3c3c3c" stroke-width="0.8"/>
<line x1="377.40" y1="200.25" x2="380.50" y2="200.25" stroke="#3c3c3c" stroke-width="0.8"/>
<line x1="684.10" y1="200.25" x2="681.00" y2="200.25" stroke="#3c3c3c" stroke-width="0.8"/>
<line x1="377.40" y1="196.80" x2="379.00" y2="196.80" stroke="#3c3c3c" stroke-width="0.8"/>
<line x1="684.10" y1="196.80" x2="682.50" y2="196.80" stroke="#3c3c3c" stroke-width="0.8"/>
<line x1="377.40" y1="193.35" x2="379.00" y2="193.35" stroke="#3c3c3c" stroke-width="0.8"/>
<line x1="684.10" y1="193.35" x2="682.50" y2="193.35" stroke="#3c3c3c" stroke-width="0.8"/>
<line x1="377.40" y1="189.90" x2="379.00" y2="189.90" stroke="#3c3c3c" stroke-width="0.8"/>
<line x1="684.10" y1="189.90" x2="682.50" y2="189.90" stroke="#3c3c3c" stroke-width="0.8"/>
<line x1="377.40" y1="186.45" x2="379.00" y2="186.45" stroke="#3c3c3c" stroke-width="0.8"/>
<line x1="684.10" y1="186.45" x2="682.50" y2="186.45" stroke="#3c3c3c" stroke-width="0.8"/>
<line x1="377.40" y1="183.00" x2="380.50" y2="183.00" stroke="#3c3c3c" stroke-width="0.8"/>
<line x1="684.10" y1="183.00" x2="681.00" y2="183.00" stroke="#3c3c3c" stroke-width="0.8"/>
<line x1="377.40" y1="179.55" x2="379.00" y2="179.55" stroke="#3c3c3c" stroke-width="0.8"/>
<line x1="684.10" y1="179.55" x2="682.50" y2="179.55" stroke="#3c3c3c" stroke-width="0.8"/>
<line x1="377.40" y1="176.10" x2="379.00" y2="176.10" stroke="#3c3c3c" stroke-width="0.8"/>
<line x1="684.10" y1="176.10" x2="682.50" y2="176.10" stroke="#3c3c3c" stroke-width="0.8"/>
<line x1="377.40" y1="172.65" x2="379.00" y2="172.65" stroke="#3c3c3c" stroke-width="0.8"/>
<line x1="684.10" y1="172.65" x2="682.50" y2="172.65" stroke="#3c3c3c" stroke-width="0.8"/>
<line x1="377.40" y1="169.20" x2="379.00" y2="169.20" stroke="#3c3c3c" stroke-width="0.8"/>
<line x1="684.10" y1="169.20" x2="682.50" y2="169.20" stroke="#3c3c3c" stroke-width="0.8"/>
<line x1="377.40" y1="165.75" x2="380.50" y2="165.75" stroke="#3c3c3c" stroke-width="0.8"/>
<line x1="684.10" y1="165.75" x2="681.00" y2="165.75" stroke="#3c3c3c" stroke-width="0.8"/>
<line x1="377.40" y1="162.30" x2="379.00" y2="162.30" stroke="#3c3c3c" stroke-width="0.8"/>
<line x1="684.10" y1="162.30" x2="682.50" y2="162.30" stroke="#3c3c3c" stroke-width="0.8"/>
<line x1="377.40" y1="158.85" x2="379.00" y2="158.85" stroke="#3c3c3c" stroke-width="0.8"/>
<line x1="684.10" y1="158.85" x2="682.50" y2="158.85" stroke="#3c3c3c" stroke-width="0.8"/>
<line x1="377.40" y1="155.40" x2="379.00" y2="155.40" stroke="#3c3c3c" stroke-width="0.8"/>
<line x1="684.10" y1="155.40" x2="682.50" y2="155.40" stroke="#3c3c3c" stroke-width="0.8"/>
<line x1="377.40" y1="151.95" x2="379.00" y2="151.95" stroke="#3c3c3c" stroke-width="0.8"/>
<line x1="684.10" y1="151.95" x2="682.50" y2="151.95" stroke="#3c3c3c" stroke-width="0.8"/>
<line x1="377.40" y1="148.50" x2="380.50" y2="148.50" stroke="#3c3c3c" stroke-width="0.8"/>
<line x1="684.10" y1="148.50" x2="681.00" y2="148.50" stroke="#3c3c3c" stroke-width="0.8"/>
<line x1="377.40" y1="145.05" x2="379.00" y2="145.05" stroke="#3c3c3c" stroke-width="0.8"/>
<line x1="684.10" y1="145.05" x2="682.50" y2="145.05" stroke="#3c3c3c" stroke-width="0.8"/>
<line x1="377.40" y1="141.60" x2="379.00" y2="141.60" stroke="#3c3c3c" stroke-width="0.8"/>
<line x1="684.10" y1="141.60" x2="682.50" y2="141.60" stroke="#3c3c3c" stroke-width="0.8"/>
<line x1="377.40" y1="138.15" x2="379.00" y2="138.15" stroke="#3c3c3c" stroke-width="0.8"/>
<line x1="684.10" y1="138.15" x2="682.50" y2="138.15" stroke="#3c3c3c" stroke-width="0.8"/>
<line x1="377.40" y1="134.70" x2="379.00" y2="134.70" stroke="#3c3c3c" stroke-width="0.8"/>
<line x1="684.10" y1="134.70" x2="682.50" y2="134.70" stroke="#3c3c3c" stroke-width="0.8"/>
<line x1="377.40" y1="131.25" x2="380.50" y2="131.25" stroke="#3c3c3c" stroke-width="0.8"/>
<line x1="684.10" y1="131.25" x2="681.00" y2="131.25" stroke="#3c3c3c" stroke-width="0.8"/>
<line x1="377.40" y1="127.80" x2="379.00" y2="127.80" stroke="#3c3c3c" stroke-width="0.8"/>
<line x1="684.10" y1="127.80" x2="682.50" y2="127.80" stroke="#3c3c3c" stroke-width="0.8"/>
<rect x="377.40" y="126.60" width="306.70" height="95.40" fill="none" stroke="#3c3c3c" stroke-width="1.05"/>
<text x="23.08" y="44.60" font-size="12.00" font-style="normal" textLength="11.07" lengthAdjust="spacingAndGlyphs">10</text>
<line x1="34.30" y1="38.50" x2="39.00" y2="38.50" stroke="#1c1c1c" stroke-width="0.75"/>
<text x="39.47" y="40.20" font-size="7.80" font-style="normal" textLength="4.17" lengthAdjust="spacingAndGlyphs">4</text>
<text x="23.08" y="81.70" font-size="12.00" font-style="normal" textLength="11.07" lengthAdjust="spacingAndGlyphs">10</text>
<line x1="34.30" y1="75.60" x2="39.00" y2="75.60" stroke="#1c1c1c" stroke-width="0.75"/>
<text x="39.14" y="77.30" font-size="7.80" font-style="normal" textLength="4.81" lengthAdjust="spacingAndGlyphs">5</text>
<text x="33.17" y="147.40" font-size="12.00" font-style="normal" textLength="11.18" lengthAdjust="spacingAndGlyphs">10</text>
<text x="38.64" y="177.80" font-size="12.00" font-style="normal" textLength="5.71" lengthAdjust="spacingAndGlyphs">0</text>
<text x="33.17" y="208.20" font-size="12.00" font-style="normal" textLength="11.18" lengthAdjust="spacingAndGlyphs">10</text>
<line x1="25.90" y1="205.20" x2="32.70" y2="205.20" stroke="#1c1c1c" stroke-width="0.75"/>
<text x="370.00" y="111.10" font-size="12.00" font-style="normal" textLength="4.90" lengthAdjust="spacingAndGlyphs">4</text>
<line x1="361.90" y1="108.10" x2="368.70" y2="108.10" stroke="#1c1c1c" stroke-width="0.75"/>
<text x="369.31" y="96.70" font-size="12.00" font-style="normal" textLength="5.85" lengthAdjust="spacingAndGlyphs">3</text>
<line x1="361.60" y1="93.70" x2="368.40" y2="93.70" stroke="#1c1c1c" stroke-width="0.75"/>
<text x="369.29" y="82.30" font-size="12.00" font-style="normal" textLength="6.15" lengthAdjust="spacingAndGlyphs">2</text>
<line x1="361.60" y1="79.30" x2="368.40" y2="79.30" stroke="#1c1c1c" stroke-width="0.75"/>
<text x="369.89" y="67.90" font-size="12.00" font-style="normal" textLength="5.49" lengthAdjust="spacingAndGlyphs">1</text>
<line x1="362.60" y1="64.90" x2="369.40" y2="64.90" stroke="#1c1c1c" stroke-width="0.75"/>
<text x="369.44" y="53.50" font-size="12.00" font-style="normal" textLength="5.71" lengthAdjust="spacingAndGlyphs">0</text>
<text x="369.89" y="39.10" font-size="12.00" font-style="normal" textLength="5.49" lengthAdjust="spacingAndGlyphs">1</text>
<text x="369.29" y="24.70" font-size="12.00" font-style="normal" textLength="6.15" lengthAdjust="spacingAndGlyphs">2</text>
<text x="370.00" y="221.60" font-size="12.00" font-style="normal" textLength="4.90" lengthAdjust="spacingAndGlyphs">4</text>
<line x1="361.90" y1="218.60" x2="368.70" y2="218.60" stroke="#1c1c1c" stroke-width="0.75"/>
<text x="369.31" y="204.35" font-size="12.00" font-style="normal" textLength="5.85" lengthAdjust="spacingAndGlyphs">3</text>
<line x1="361.60" y1="201.35" x2="368.40" y2="201.35" stroke="#1c1c1c" stroke-width="0.75"/>
<text x="369.29" y="187.10" font-size="12.00" font-style="normal" textLength="6.15" lengthAdjust="spacingAndGlyphs">2</text>
<line x1="361.60" y1="184.10" x2="368.40" y2="184.10" stroke="#1c1c1c" stroke-width="0.75"/>
<text x="369.89" y="169.85" font-size="12.00" font-style="normal" textLength="5.49" lengthAdjust="spacingAndGlyphs">1</text>
<line x1="362.60" y1="166.85" x2="369.40" y2="166.85" stroke="#1c1c1c" stroke-width="0.75"/>
<text x="369.44" y="152.60" font-size="12.00" font-style="normal" textLength="5.71" lengthAdjust="spacingAndGlyphs">0</text>
<text x="369.89" y="135.35" font-size="12.00" font-style="normal" textLength="5.49" lengthAdjust="spacingAndGlyphs">1</text>
<text x="144.44" y="232.50" font-size="12.00" font-style="normal" textLength="10.28" lengthAdjust="spacingAndGlyphs">10</text>
<text x="154.75" y="228.90" font-size="7.80" font-style="normal" textLength="3.97" lengthAdjust="spacingAndGlyphs">2</text>
<text x="319.54" y="232.50" font-size="12.00" font-style="normal" textLength="10.28" lengthAdjust="spacingAndGlyphs">10</text>
<text x="329.86" y="228.90" font-size="7.80" font-style="normal" textLength="3.82" lengthAdjust="spacingAndGlyphs">3</text>
<text x="480.24" y="232.50" font-size="12.00" font-style="normal" textLength="10.28" lengthAdjust="spacingAndGlyphs">10</text>
<text x="490.55" y="228.90" font-size="7.80" font-style="normal" textLength="3.97" lengthAdjust="spacingAndGlyphs">2</text>
<text x="663.44" y="232.50" font-size="12.00" font-style="normal" textLength="10.28" lengthAdjust="spacingAndGlyphs">10</text>
<text x="673.76" y="228.90" font-size="7.80" font-style="normal" textLength="3.82" lengthAdjust="spacingAndGlyphs">3</text>
<text x="122.98" y="11.60" font-size="14.40" font-style="normal" textLength="13.61" lengthAdjust="spacingAndGlyphs">pp</text>
<path d="M140.90 8.20 H152.70 M149.40 5.10 Q150.40 7.60 153.00 8.20 Q150.40 8.80 149.40 11.30" fill="none" stroke="#1c1c1c" stroke-width="0.8" stroke-linecap="round"/>
<text x="157.14" y="11.60" font-size="14.80" font-style="normal" textLength="20.68" lengthAdjust="spacingAndGlyphs">ZW</text>
<line x1="178.50" y1="4.40" x2="184.70" y2="4.40" stroke="#1c1c1c" stroke-width="0.75"/>
<path d="M189.90 8.20 H201.90 M198.60 5.10 Q199.60 7.60 202.20 8.20 Q199.60 8.80 198.60 11.30" fill="none" stroke="#1c1c1c" stroke-width="0.8" stroke-linecap="round"/>
<text x="206.38" y="11.60" font-size="14.80" font-style="italic" textLength="18.99" lengthAdjust="spacingAndGlyphs">&#8467;&#8467;&#8467;&#8242;</text>
<line x1="213.90" y1="0.80" x2="218.70" y2="0.80" stroke="#1c1c1c" stroke-width="0.7"/>
<text x="226.17" y="11.60" font-size="13.40" font-style="italic" textLength="6.08" lengthAdjust="spacingAndGlyphs">&#957;</text>
<line x1="227.60" y1="3.30" x2="231.60" y2="3.30" stroke="#1c1c1c" stroke-width="0.7"/>
<text x="232.49" y="13.40" font-size="10.50" font-style="italic" textLength="5.73" lengthAdjust="spacingAndGlyphs">&#8467;&#8242;</text>
<line x1="242.50" y1="8.40" x2="250.60" y2="8.40" stroke="#1c1c1c" stroke-width="0.8"/>
<line x1="246.55" y1="4.60" x2="246.55" y2="12.20" stroke="#1c1c1c" stroke-width="0.8"/>
<text x="254.50" y="11.60" font-size="14.80" font-style="normal" textLength="8.76" lengthAdjust="spacingAndGlyphs">X</text>
<text x="461.08" y="11.60" font-size="14.40" font-style="normal" textLength="13.61" lengthAdjust="spacingAndGlyphs">pp</text>
<path d="M479.00 8.20 H490.80 M487.50 5.10 Q488.50 7.60 491.10 8.20 Q488.50 8.80 487.50 11.30" fill="none" stroke="#1c1c1c" stroke-width="0.8" stroke-linecap="round"/>
<text x="495.24" y="11.60" font-size="14.80" font-style="normal" textLength="20.68" lengthAdjust="spacingAndGlyphs">ZW</text>
<line x1="516.60" y1="4.40" x2="522.80" y2="4.40" stroke="#1c1c1c" stroke-width="0.75"/>
<path d="M528.00 8.20 H540.00 M536.70 5.10 Q537.70 7.60 540.30 8.20 Q537.70 8.80 536.70 11.30" fill="none" stroke="#1c1c1c" stroke-width="0.8" stroke-linecap="round"/>
<text x="544.48" y="11.60" font-size="14.80" font-style="italic" textLength="18.99" lengthAdjust="spacingAndGlyphs">&#8467;&#8467;&#8467;&#8242;</text>
<line x1="552.00" y1="0.80" x2="556.80" y2="0.80" stroke="#1c1c1c" stroke-width="0.7"/>
<text x="564.27" y="11.60" font-size="13.40" font-style="italic" textLength="6.08" lengthAdjust="spacingAndGlyphs">&#957;</text>
<line x1="565.70" y1="3.30" x2="569.70" y2="3.30" stroke="#1c1c1c" stroke-width="0.7"/>
<text x="570.59" y="13.40" font-size="10.50" font-style="italic" textLength="5.73" lengthAdjust="spacingAndGlyphs">&#8467;&#8242;</text>
<line x1="580.60" y1="8.40" x2="588.70" y2="8.40" stroke="#1c1c1c" stroke-width="0.8"/>
<line x1="584.65" y1="4.60" x2="584.65" y2="12.20" stroke="#1c1c1c" stroke-width="0.8"/>
<text x="592.60" y="11.60" font-size="14.80" font-style="normal" textLength="8.76" lengthAdjust="spacingAndGlyphs">X</text>
<text x="164.94" y="247.30" font-size="12.80" font-style="italic" textLength="6.13" lengthAdjust="spacingAndGlyphs">p</text>
<text x="172.07" y="250.90" font-size="9.40" font-style="normal" textLength="7.54" lengthAdjust="spacingAndGlyphs">T,</text>
<text x="180.07" y="250.90" font-size="9.60" font-style="italic" textLength="8.23" lengthAdjust="spacingAndGlyphs">&#8467;&#8467;</text>
<line x1="185.00" y1="242.30" x2="188.60" y2="242.30" stroke="#1c1c1c" stroke-width="0.6"/>
<text x="192.70" y="247.40" font-size="15.50" font-style="normal" textLength="28.93" lengthAdjust="spacingAndGlyphs"><tspan font-size="17.5" dy="1.2">[</tspan><tspan dy="-1.2">G</tspan><tspan font-size="14">e</tspan><tspan>V</tspan><tspan font-size="17.5" dy="1.2">]</tspan></text>
<text x="502.94" y="247.30" font-size="12.80" font-style="italic" textLength="6.13" lengthAdjust="spacingAndGlyphs">p</text>
<text x="510.07" y="250.90" font-size="9.40" font-style="normal" textLength="7.54" lengthAdjust="spacingAndGlyphs">T,</text>
<text x="518.07" y="250.90" font-size="9.60" font-style="italic" textLength="8.23" lengthAdjust="spacingAndGlyphs">&#8467;&#8467;</text>
<line x1="523.00" y1="242.30" x2="526.60" y2="242.30" stroke="#1c1c1c" stroke-width="0.6"/>
<text x="530.70" y="247.40" font-size="15.50" font-style="normal" textLength="28.93" lengthAdjust="spacingAndGlyphs"><tspan font-size="17.5" dy="1.2">[</tspan><tspan dy="-1.2">G</tspan><tspan font-size="14">e</tspan><tspan>V</tspan><tspan font-size="17.5" dy="1.2">]</tspan></text>
<text transform="translate(19.00 228.00) rotate(-90)" font-size="15.50" font-style="normal" textLength="25.28" lengthAdjust="spacingAndGlyphs">NLO</text>
<text transform="translate(19.00 198.83) rotate(-90)" font-size="15.50" font-style="normal" textLength="21.42" lengthAdjust="spacingAndGlyphs">EW</text>
<text transform="translate(19.00 173.70) rotate(-90)" font-size="14.00" font-style="normal" textLength="33.77" lengthAdjust="spacingAndGlyphs">on/off</text>
<text transform="translate(19.00 135.84) rotate(-90)" font-size="15.50" font-style="normal" textLength="15.36" lengthAdjust="spacingAndGlyphs"><tspan font-size="17.5" dy="1.2">[</tspan><tspan dy="-1.2"><tspan font-size="17">%</tspan></tspan><tspan font-size="17.5" dy="1.2">]</tspan></text>
<text transform="translate(355.00 118.94) rotate(-90)" font-size="15.50" font-style="normal" textLength="25.43" lengthAdjust="spacingAndGlyphs">PDF</text>
<text transform="translate(355.00 88.82) rotate(-90)" font-size="14.00" font-style="normal" textLength="59.70" lengthAdjust="spacingAndGlyphs">uncertainty</text>
<text transform="translate(355.00 24.09) rotate(-90)" font-size="15.50" font-style="normal" textLength="16.24" lengthAdjust="spacingAndGlyphs"><tspan font-size="17.5" dy="1.2">[</tspan><tspan dy="-1.2"><tspan font-size="17">%</tspan></tspan><tspan font-size="17.5" dy="1.2">]</tspan></text>
<text transform="translate(354.60 193.05) rotate(-90)" font-size="15.50" font-style="normal" textLength="22.02" lengthAdjust="spacingAndGlyphs">P<tspan font-size="14">ull</tspan></text>
<text transform="translate(354.60 169.03) rotate(-90)" font-size="15.50" font-style="normal" textLength="15.31" lengthAdjust="spacingAndGlyphs"><tspan font-size="17.5" dy="1.2">[</tspan><tspan dy="-1.2" font-size="14" font-style="italic">&#963;</tspan><tspan font-size="17.5" dy="1.2">]</tspan></text>
<text transform="translate(12.30 79.03) rotate(-90)" font-size="15.50" font-style="normal" textLength="16.41" lengthAdjust="spacingAndGlyphs"><tspan font-size="17.5" dy="1.2">[</tspan><tspan dy="-1.2" font-size="14">pb</tspan></text>
<text transform="translate(12.30 61.02) rotate(-90)" font-size="15.50" font-style="normal" textLength="23.72" lengthAdjust="spacingAndGlyphs">G<tspan font-size="14">e</tspan>V</text>
<text transform="translate(7.20 36.01) rotate(-90)" font-size="10.00" font-style="normal" textLength="11.68" lengthAdjust="spacingAndGlyphs">&#8722;1</text>
<text transform="translate(12.30 25.07) rotate(-90)" font-size="15.50" font-style="normal" textLength="3.11" lengthAdjust="spacingAndGlyphs"><tspan font-size="17.5" dy="1.2">]</tspan></text>
<text transform="translate(5.90 101.54) rotate(-90)" font-size="10.50" font-style="normal" textLength="10.12" lengthAdjust="spacingAndGlyphs">d<tspan font-style="italic">&#963;</tspan></text>
<line x1="8.40" y1="84.20" x2="8.40" y2="106.90" stroke="#1c1c1c" stroke-width="0.6"/>
<text transform="translate(16.60 107.16) rotate(-90)" font-size="10.50" font-style="normal" textLength="10.82" lengthAdjust="spacingAndGlyphs">d<tspan font-style="italic">p</tspan></text>
<text transform="translate(18.60 95.92) rotate(-90)" font-size="7.60" font-style="normal" textLength="11.46" lengthAdjust="spacingAndGlyphs">T,<tspan font-style="italic">&#8467;&#8467;</tspan></text>
<line x1="46.10" y1="119.30" x2="62.30" y2="119.30" stroke="#ee2b36" stroke-width="1.3"/>
<text x="68.37" y="121.70" font-size="7.80" font-style="normal" textLength="36.94" lengthAdjust="spacingAndGlyphs">NLO QCD</text>
<line x1="108.30" y1="119.30" x2="124.00" y2="119.30" stroke="#4169e1" stroke-width="1.3"/>
<text x="130.06" y="121.70" font-size="7.80" font-style="normal" textLength="55.20" lengthAdjust="spacingAndGlyphs">NLO QCD+EW</text>
<rect x="189.1" y="116.4" width="15.8" height="5.5" fill="#b3c3f3"/>
<text x="210.76" y="121.70" font-size="7.80" font-style="normal" textLength="47.12" lengthAdjust="spacingAndGlyphs">7-p. scale var.</text>
<line x1="268.70" y1="115.50" x2="268.70" y2="123.50" stroke="#4169e1" stroke-width="1.2"/>
<line x1="267.80" y1="115.60" x2="269.60" y2="115.60" stroke="#4169e1" stroke-width="0.6"/>
<line x1="267.80" y1="123.40" x2="269.60" y2="123.40" stroke="#4169e1" stroke-width="0.6"/>
<text x="282.86" y="121.70" font-size="7.80" font-style="normal" textLength="56.79" lengthAdjust="spacingAndGlyphs">PDF uncertainty</text>
<line x1="377.00" y1="120.20" x2="393.30" y2="120.20" stroke="#6495ed" stroke-width="1.3"/>
<text x="399.17" y="122.60" font-size="8.20" font-style="normal" textLength="38.15" lengthAdjust="spacingAndGlyphs">NNPDF4.0</text>
<line x1="447.10" y1="120.20" x2="463.30" y2="120.20" stroke="#bd4f4f" stroke-width="1.3"/>
<text x="469.37" y="122.60" font-size="8.20" font-style="normal" textLength="37.70" lengthAdjust="spacingAndGlyphs">NNPDF3.1</text>
<line x1="517.20" y1="120.20" x2="533.40" y2="120.20" stroke="#ffa040" stroke-width="1.3"/>
<text x="539.68" y="122.60" font-size="8.20" font-style="normal" textLength="30.71" lengthAdjust="spacingAndGlyphs">MSHT20</text>
<line x1="580.10" y1="120.20" x2="596.20" y2="120.20" stroke="#2a802a" stroke-width="1.3"/>
<text x="602.04" y="122.60" font-size="8.20" font-style="normal" textLength="19.35" lengthAdjust="spacingAndGlyphs">CT18</text>
<line x1="631.20" y1="120.20" x2="647.60" y2="120.20" stroke="#9e3aa6" stroke-width="1.3"/>
<text x="653.70" y="122.60" font-size="8.20" font-style="normal" textLength="30.45" lengthAdjust="spacingAndGlyphs">ABMP16</text>
</svg>
</div></body></html>
